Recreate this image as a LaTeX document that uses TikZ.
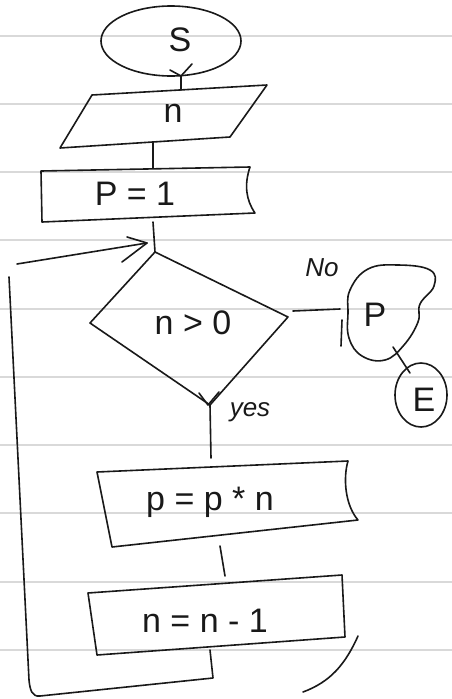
\documentclass[tikz,border=0pt]{standalone}
\usepackage{fontspec}
\setmainfont{Liberation Sans}
\begin{document}
\begin{tikzpicture}[x=1pt,y=-1pt,
  ink/.style={line width=1.6pt, line join=round, line cap=round, black!90},
  rule/.style={black!15, line width=1.3pt},
  lbl/.style={font=\fontsize{34}{38}\selectfont, inner sep=0pt, black!90},
  small/.style={font=\fontsize{26}{30}\selectfont\itshape, inner sep=0pt, black!90}]
\useasboundingbox (0,0) rectangle (452,699);
\fill[white] (0,0) rectangle (452,699);
\foreach \y in {36,104,172,240,309,377,445,513,582,650} \draw[rule] (0,\y) -- (452,\y);

% start
\draw[ink] (171,41) ellipse [x radius=70, y radius=35];
\node[lbl] (S) at (180,40) {S};
\coordinate (sB) at (181,76);
\coordinate (nT) at (181,90);
\draw[ink] (sB) -- (nT);
\draw[ink] (170,70) -- (181,76) -- (192,64);

% input n
\draw[ink] (92,95) -- (267,85) -- (230,137) -- (60,148) -- cycle;
\node[lbl] (n) at (173,113) {n};
\coordinate (nB) at (153,142);
\coordinate (p1T) at (153,168);
\draw[ink] (nB) -- (p1T);

% P = 1
\draw[ink] (41,171) -- (250,167) .. controls (244,185) and (246,200) .. (255,213) -- (42,222) -- cycle;
\node[lbl] (p1) at (135,194) {P = 1};
\coordinate (p1B) at (153,222);
\coordinate (dT) at (155,252);
\draw[ink] (p1B) -- (dT);

% decision
\draw[ink] (dT) -- (288,317) -- (210,405) -- (90,323) -- cycle;
\node[lbl] (dec) at (193,323) {n > 0};
\coordinate (dR) at (293,311);
\coordinate (cL) at (340,309);
\draw[ink] (dR) -- (cL);
\node[small] (no) at (322,268) {No};
\coordinate (dB) at (210,405);
\coordinate (pnT) at (211,458);
\draw[ink] (dB) -- (pnT);
\draw[ink] (199,393) -- (208,405) -- (219,392);
\node[small] (yes) at (250,412) {yes};

% output P (cloud)
\draw[ink] plot[smooth cycle, tension=0.7] coordinates {(350,290) (368,269) (398,265) (430,270) (434,286) (420,304) (418,322) (404,345) (385,360) (362,356) (349,338) (348,313)};
\draw[ink] (342,320) -- (341,346);
\node[lbl] (P) at (375,315) {P};
\coordinate (cB) at (393,347);
\coordinate (eT) at (410,373);
\draw[ink] (cB) -- (eT);

% end
\draw[ink] (421,395) ellipse [x radius=26, y radius=32];
\node[lbl] (E) at (424,400) {E};

% p = p * n
\draw[ink] (97,472) -- (348,461) .. controls (343,478) and (345,505) .. (358,520) -- (112,547) -- cycle;
\node[lbl] (pn) at (210,502) {p = p * n};
\coordinate (pnB) at (220,546);
\coordinate (nnT) at (225,576);
\draw[ink] (pnB) -- (nnT);

% n = n - 1
\draw[ink] (88,593) -- (342,575) -- (345,637) -- (97,655) -- cycle;
\node[lbl] (nn) at (205,621) {n = n - 1};
\coordinate (nnB) at (210,650);

% loop back
\coordinate (lB) at (213,678);
\coordinate (lBL) at (40,696);
\coordinate (lTL) at (9,277);
\draw[ink] (nnB) -- (lB) -- (lBL) .. controls (32,697) and (30,690) .. (29,680) -- (lTL);
\coordinate (aS) at (17,264);
\coordinate (aE) at (147,243);
\draw[ink] (aS) -- (aE);
\draw[ink] (127,237) -- (aE) -- (122,262);

% stray stroke
\draw[ink] (358,636) .. controls (345,665) and (330,682) .. (303,692);
\end{tikzpicture}
\end{document}
